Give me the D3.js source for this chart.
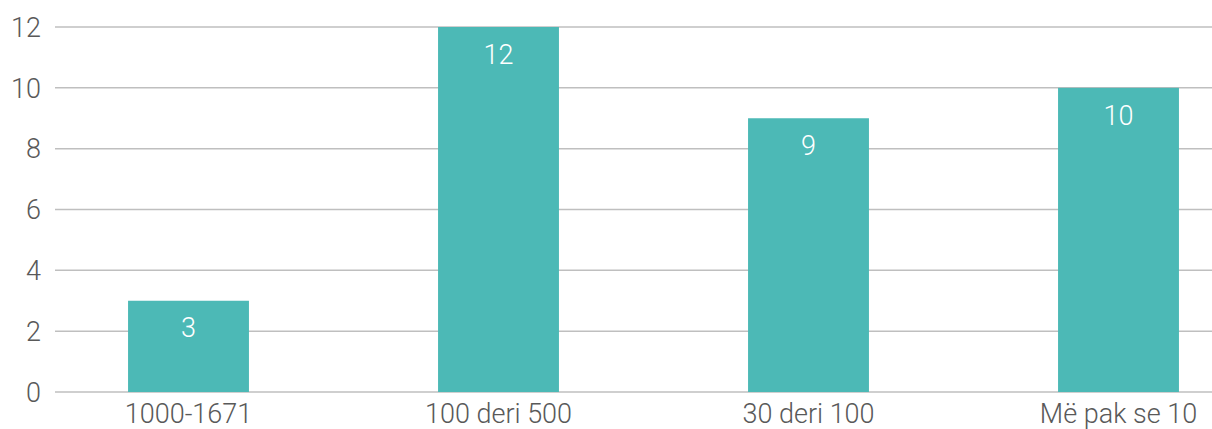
<!DOCTYPE html>
<html>
<head>
<meta charset="utf-8">
<script src="https://cdn.jsdelivr.net/npm/d3@7"></script>
<style>
  body { margin: 0; background: #fff; }
  text { font-family: Roboto, "Liberation Sans", sans-serif; font-weight: 300; }
</style>
</head>
<body>
<div id="chart"></div>
<script>
// chart data
const categories = ["1000-1671", "100 deri 500", "30 deri 100", "Më pak se 10"];
const values = [3, 12, 9, 10];
const yTicks = [0, 2, 4, 6, 8, 10, 12];

const width = 1212, height = 429;

const svg = d3.select("#chart").append("svg")
    .attr("width", width)
    .attr("height", height);

const x = d3.scaleBand()
    .domain(categories)
    .range([33.5, 1273.5])
    .paddingInner(0.61)
    .paddingOuter(0.305);

const y = d3.scaleLinear()
    .domain([0, 12])
    .range([392, 27]);

//gridlines
svg.append("g")
    .selectAll("line")
    .data(yTicks)
    .join("line")
    .attr("x1", 55)
    .attr("x2", width)
    .attr("y1", d => y(d))
    .attr("y2", d => y(d))
    .style("stroke", "#bfbfbf")
    .style("stroke-width", 1.5);

//y labels
svg.append("g")
    .selectAll("text")
    .data(yTicks)
    .join("text")
    .attr("x", 41)
    .attr("y", d => y(d))
    .attr("dy", "0.36em")
    .attr("text-anchor", "end")
    .style("font-size", "27px")
    .style("fill", "#595959")
    .text(d => d);

//bars
svg.append("g")
    .selectAll("rect")
    .data(values)
    .join("rect")
    .attr("x", (d, i) => x(categories[i]))
    .attr("width", x.bandwidth())
    .attr("y", d => y(d))
    .attr("height", d => y(0) - y(d))
    .style("fill", "#4cb9b6");

//value labels
svg.append("g")
    .selectAll("text")
    .data(values)
    .join("text")
    .attr("x", (d, i) => x(categories[i]) + x.bandwidth() / 2)
    .attr("y", d => y(d) + 27)
    .attr("dy", "0.36em")
    .attr("text-anchor", "middle")
    .style("font-size", "27px")
    .style("fill", "#fff")
    .text(d => d);

//x labels
svg.append("g")
    .selectAll("text")
    .data(categories)
    .join("text")
    .attr("x", d => x(d) + x.bandwidth() / 2)
    .attr("y", 413)
    .attr("dy", "0.36em")
    .attr("text-anchor", "middle")
    .style("font-size", "27px")
    .style("fill", "#595959")
    .text(d => d);
</script>
</body>
</html>
